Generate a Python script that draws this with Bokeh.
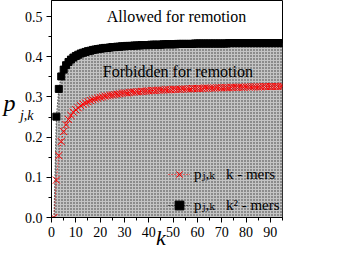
from bokeh.plotting import figure
from bokeh.models import (SingleIntervalTicker, NumeralTickFormatter, Label,
                          LinearAxis, FixedTicker)
from bokeh.embed import file_html
from bokeh.resources import INLINE

# ---- data ----
k = list(range(1, 96))
p_kmers = [0.000, 0.093, 0.154, 0.189, 0.214, 0.231, 0.244, 0.254, 0.262, 0.268,
           0.273, 0.278, 0.282, 0.285, 0.288, 0.291, 0.293, 0.295, 0.297, 0.299,
           0.300, 0.302, 0.303, 0.304, 0.305, 0.306, 0.307, 0.308, 0.309, 0.310,
           0.310, 0.311, 0.312, 0.312, 0.313, 0.313, 0.314, 0.314, 0.315, 0.315,
           0.316, 0.316, 0.316, 0.317, 0.317, 0.317, 0.318, 0.318, 0.318, 0.319,
           0.319, 0.319, 0.319, 0.320, 0.320, 0.320, 0.320, 0.321, 0.321, 0.321,
           0.321, 0.321, 0.322, 0.322, 0.322, 0.322, 0.322, 0.323, 0.323, 0.323,
           0.323, 0.323, 0.323, 0.324, 0.324, 0.324, 0.324, 0.324, 0.324, 0.325,
           0.325, 0.325, 0.325, 0.325, 0.325, 0.325, 0.326, 0.326, 0.326, 0.326,
           0.326, 0.326, 0.326, 0.326, 0.327]
p_k2mers = [0.000, 0.251, 0.320, 0.351, 0.368, 0.379, 0.387, 0.393, 0.398, 0.402,
            0.405, 0.408, 0.410, 0.412, 0.414, 0.415, 0.417, 0.418, 0.419, 0.420,
            0.421, 0.422, 0.422, 0.423, 0.424, 0.424, 0.425, 0.425, 0.426, 0.426,
            0.427, 0.427, 0.427, 0.428, 0.428, 0.428, 0.429, 0.429, 0.429, 0.429,
            0.430, 0.430, 0.430, 0.430, 0.430, 0.431, 0.431, 0.431, 0.431, 0.431,
            0.431, 0.432, 0.432, 0.432, 0.432, 0.432, 0.432, 0.432, 0.433, 0.433,
            0.433, 0.433, 0.433, 0.433, 0.433, 0.433, 0.433, 0.433, 0.433, 0.433,
            0.433, 0.433, 0.434, 0.434, 0.434, 0.434, 0.434, 0.434, 0.434, 0.434,
            0.434, 0.434, 0.434, 0.434, 0.434, 0.434, 0.434, 0.434, 0.434, 0.434,
            0.434, 0.434, 0.434, 0.434, 0.434]
label_kmers = "p\u2c7c,\u2096\u00a0\u00a0\u00a0k - mers"
label_k2mers = "p\u2c7c,\u2096\u00a0\u00a0\u00a0k\u00b2 - mers"
x_title = "k"
y_title_main = "p"
y_title_sub = "j,k"

FONT = "Liberation Serif, Times New Roman, DejaVu Serif, serif"

p = figure(width=329, height=252, x_range=(0, 95), y_range=(0, 0.54),
           output_backend="svg", toolbar_location=None,
           min_border_left=43, min_border_right=47, min_border_top=0,
           min_border_bottom=35)

# forbidden region (below the k^2-mers curve)
p.varea(x=k, y1=[0] * len(k), y2=p_k2mers, fill_color="#c4c4c4",
        hatch_pattern="dot", hatch_color="#333333", hatch_scale=3,
        hatch_weight=1)

p.line(k, p_kmers, line_color="red", line_dash="1 2", line_width=1,
       legend_label=label_kmers)
p.scatter(k, p_kmers, marker="x", size=10, line_color="red", line_width=1,
          legend_label=label_kmers)
p.line(k, p_k2mers, line_color="black", line_dash="1 2", line_width=1,
       legend_label=label_k2mers)
p.scatter(k[1:], p_k2mers[1:], marker="square", size=7, fill_color="black",
          line_color="black", legend_label=label_k2mers)

# axes
p.xgrid.visible = False
p.ygrid.visible = False
p.xaxis.ticker = SingleIntervalTicker(interval=10, num_minor_ticks=2)
p.yaxis.ticker = SingleIntervalTicker(interval=0.1, num_minor_ticks=2)
p.yaxis.formatter = NumeralTickFormatter(format="0.0")
for ax in (p.xaxis, p.yaxis):
    ax.major_tick_out = 5
    ax.major_tick_in = 0
    ax.minor_tick_out = 3
    ax.minor_tick_in = 0
    ax.axis_line_color = "black"
    ax.major_tick_line_color = "black"
    ax.minor_tick_line_color = "black"
    ax.major_label_text_font = FONT
    ax.major_label_text_font_size = "14px"
    ax.major_label_text_color = "black"
    ax.major_label_standoff = 4


def title_axis(side, at, text, size, standoff):
    ax = LinearAxis(ticker=FixedTicker(ticks=[at]),
                    major_label_overrides={at: text},
                    axis_line_color=None, major_tick_line_color=None,
                    minor_tick_line_color=None, major_tick_out=0,
                    major_tick_in=0, major_label_standoff=standoff,
                    major_label_text_font=FONT,
                    major_label_text_font_size=size,
                    major_label_text_font_style="italic",
                    major_label_text_color="black")
    p.add_layout(ax, side)
    return ax


# y title: subscript next to the tick labels, then the main letter
title_axis("left", 0.254, y_title_sub, "14px", -12)
title_axis("left", 0.286, y_title_main, "24px", 1)
# x title below the tick labels
title_axis("below", 45, x_title, "22px", -15)

p.outline_line_color = "black"
p.outline_line_alpha = 1
p.outline_line_width = 1

# region texts
p.add_layout(Label(x=22.7, y=0.5, text="Allowed for remotion", text_font=FONT,
                   text_font_size="16px", text_baseline="middle",
                   text_color="black"))
p.add_layout(Label(x=21.1, y=0.363, text="Forbidden for remotion", text_font=FONT,
                   text_font_size="16px", text_baseline="middle",
                   text_color="black"))

# legend
lg = p.legend[0]
lg.location = (117, 1)
lg.background_fill_alpha = 0
lg.border_line_alpha = 0
lg.padding = 0
lg.margin = 0
lg.spacing = 9
lg.glyph_width = 22
lg.glyph_height = 22
lg.label_height = 22
lg.label_standoff = 4
lg.label_text_font = FONT
lg.label_text_font_size = "15px"
lg.label_text_color = "black"

open("out.html", "w").write(file_html(p, INLINE))
